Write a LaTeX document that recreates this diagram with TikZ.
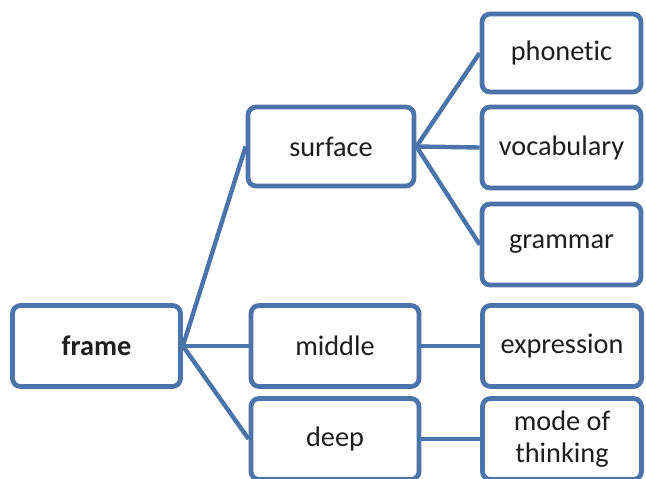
\documentclass[tikz,border=0pt]{standalone}
\usepackage{fontspec}
\setmainfont{Carlito}[Ligatures=NoCommon]
\definecolor{boxblue}{HTML}{4A74AA}
\definecolor{txt}{HTML}{1E1E1E}
\begin{document}
\begin{tikzpicture}[x=1pt,y=-1pt,
  box/.style={draw=boxblue, line width=4.8pt, rounded corners=8pt, fill=white,
    text=txt, font=\fontsize{28.3}{32}\selectfont, align=center, inner sep=0pt,
    minimum height=81pt},
  lbox/.style={box, minimum width=168pt},
  rbox/.style={box, minimum width=159pt},
  conn/.style={draw=boxblue, line width=4.4pt}
]
\useasboundingbox (0,0) rectangle (646,479);
\node[lbox] (frame) at (96.5,346) {\textbf{frame}};
\node[lbox, minimum width=166pt, minimum height=79pt] (surface) at (331,146.5) {surface};
\node[lbox] (middle) at (335,346) {middle};
\node[lbox] (deep) at (335,439) {deep};
\node[rbox, minimum height=78pt] (phonetic) at (561.5,53) {phonetic};
\node[rbox] (vocabulary) at (561.5,147.5) {vocabulary};
\node[rbox] (grammar) at (561.5,244.5) {grammar};
\node[rbox] (expression) at (562,346) {expression};
\node[rbox] (mode) at (562,439) {mode of\\thinking};
\draw[conn] (frame.east) -- (surface.west);
\draw[conn] (frame.east) -- (middle.west);
\draw[conn] (frame.east) -- (deep.west);
\draw[conn] (surface.east) -- (phonetic.west);
\draw[conn] (surface.east) -- (vocabulary.west);
\draw[conn] (surface.east) -- (grammar.west);
\draw[conn] (middle.east) -- (expression.west);
\draw[conn] (deep.east) -- (mode.west);
\end{tikzpicture}
\end{document}
